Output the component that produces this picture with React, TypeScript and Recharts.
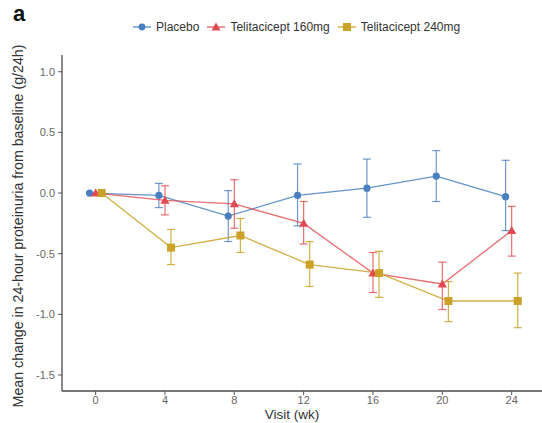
import React from 'react';
import { ComposedChart, Line, XAxis, YAxis, ErrorBar } from 'recharts';

// visit weeks
const weeks = [0, 4, 8, 12, 16, 20, 24];

// mean change in proteinuria (g/24h) with error bar ends
const placeboMean = [0, -0.02, -0.19, -0.02, 0.04, 0.14, -0.03];
const placeboLow = [0, -0.12, -0.4, -0.27, -0.2, -0.07, -0.31];
const placeboHigh = [0, 0.08, 0.02, 0.24, 0.28, 0.35, 0.27];

const t160Mean = [0, -0.06, -0.09, -0.25, -0.66, -0.75, -0.31];
const t160Low = [0, -0.18, -0.29, -0.42, -0.82, -0.96, -0.52];
const t160High = [0, 0.06, 0.11, -0.07, -0.49, -0.57, -0.11];

const t240Mean = [0, -0.45, -0.35, -0.59, -0.66, -0.89, -0.89];
const t240Low = [0, -0.59, -0.49, -0.77, -0.86, -1.06, -1.11];
const t240High = [0, -0.3, -0.21, -0.4, -0.48, -0.73, -0.66];

const yTicks = [-1.5, -1, -0.5, 0, 0.5, 1];

const BLUE = '#4A7FBF';
const RED = '#E24A4F';
const GOLD = '#C9A227';

const build = (mean: number[], low: number[], high: number[], dodge: number) =>
  weeks.map((w, i) => ({
    x: w + dodge,
    y: mean[i],
    err: i === 0 ? null : [mean[i] - low[i], high[i] - mean[i]],
  }));

const placeboData = build(placeboMean, placeboLow, placeboHigh, -0.35);
const t160Data = build(t160Mean, t160Low, t160High, 0);
const t240Data = build(t240Mean, t240Low, t240High, 0.35);

const circleDot = (color: string) => (p: any) => (
  <circle key={p.index} cx={p.cx} cy={p.cy} r={3.6} fill={color} />
);
const triDot = (color: string) => (p: any) => (
  <polygon
    key={p.index}
    points={`${p.cx},${p.cy - 4.6} ${p.cx - 4.6},${p.cy + 3.4} ${p.cx + 4.6},${p.cy + 3.4}`}
    fill={color}
  />
);
const squareDot = (color: string) => (p: any) => (
  <rect key={p.index} x={p.cx - 4} y={p.cy - 4} width={8} height={8} fill={color} />
);

const LegendItem = ({ color, shape, label }: { color: string; shape: string; label: string }) => (
  <div style={{ display: 'flex', alignItems: 'center', marginRight: 8 }}>
    <svg width={18} height={12} style={{ marginRight: 5 }}>
      <line x1={0} y1={6} x2={18} y2={6} stroke={color} strokeWidth={1.2} />
      {shape === 'circle' && <circle cx={9} cy={6} r={3.4} fill={color} />}
      {shape === 'tri' && <polygon points="9,1.5 4.5,9.5 13.5,9.5" fill={color} />}
      {shape === 'square' && <rect x={5} y={2} width={8} height={8} fill={color} />}
    </svg>
    <span>{label}</span>
  </div>
);

export default function App() {
  return (
    <div
      style={{
        position: 'absolute',
        left: 0,
        top: 0,
        width: 542,
        height: 423,
        background: '#fff',
        fontFamily: '"Liberation Sans", Arial, sans-serif',
        overflow: 'hidden',
      }}
    >
      <div style={{ position: 'absolute', left: 13, top: 1, fontSize: 22, fontWeight: 'bold', color: '#111' }}>a</div>
      <div
        style={{
          position: 'absolute',
          left: 133,
          top: 20,
          display: 'flex',
          fontSize: 12,
          color: '#333',
        }}
      >
        <LegendItem color={BLUE} shape="circle" label="Placebo" />
        <LegendItem color={RED} shape="tri" label="Telitacicept 160mg" />
        <LegendItem color={GOLD} shape="square" label="Telitacicept 240mg" />
      </div>
      <div
        style={{
          position: 'absolute',
          left: 18,
          top: 226,
          transform: 'translate(-50%, -50%) rotate(-90deg)',
          whiteSpace: 'nowrap',
          fontSize: 14.2,
          color: '#333',
        }}
      >
        Mean change in 24-hour proteinuria from baseline (g/24h)
      </div>
      <div
        style={{
          position: 'absolute',
          left: 292,
          top: 415,
          transform: 'translate(-50%, -50%)',
          whiteSpace: 'nowrap',
          fontSize: 13.5,
          lineHeight: '14px',
          color: '#333',
        }}
      >
        Visit (wk)
      </div>
      <div style={{ position: 'absolute', left: 0, top: 0 }}>
        <ComposedChart width={542} height={423} margin={{ top: 55, right: 0, bottom: 0, left: 0 }}>
          <XAxis
            type="number"
            dataKey="x"
            domain={[-1.94, 25.75]}
            ticks={weeks}
            allowDataOverflow
            height={32}
            tickSize={4}
            tickMargin={1}
            stroke="#555"
            axisLine={{ stroke: '#4a4a4a', strokeWidth: 1.3 }}
            tick={{ fill: '#666', fontSize: 11 }}
          />
          <YAxis
            type="number"
            dataKey="y"
            domain={[-1.632, 1.138]}
            ticks={yTicks}
            allowDataOverflow
            width={62}
            tickSize={4}
            tickMargin={3}
            stroke="#555"
            axisLine={{ stroke: '#4a4a4a', strokeWidth: 1.3 }}
            tick={{ fill: '#666', fontSize: 11 }}
            tickFormatter={(v: number) => v.toFixed(1)}
          />
          <Line
            data={placeboData}
            dataKey="y"
            stroke={BLUE}
            strokeOpacity={0.85}
            strokeWidth={1.3}
            dot={circleDot(BLUE)}
            activeDot={false}
            isAnimationActive={false}
          >
            <ErrorBar dataKey="err" direction="y" width={4} stroke={BLUE} strokeOpacity={0.8} strokeWidth={1.2} />
          </Line>
          <Line
            data={t160Data}
            dataKey="y"
            stroke={RED}
            strokeOpacity={0.8}
            strokeWidth={1.3}
            dot={triDot(RED)}
            activeDot={false}
            isAnimationActive={false}
          >
            <ErrorBar dataKey="err" direction="y" width={4} stroke={RED} strokeOpacity={0.8} strokeWidth={1.2} />
          </Line>
          <Line
            data={t240Data}
            dataKey="y"
            stroke={GOLD}
            strokeOpacity={0.85}
            strokeWidth={1.3}
            dot={squareDot(GOLD)}
            activeDot={false}
            isAnimationActive={false}
          >
            <ErrorBar dataKey="err" direction="y" width={4} stroke={GOLD} strokeOpacity={0.85} strokeWidth={1.2} />
          </Line>
        </ComposedChart>
      </div>
    </div>
  );
}
